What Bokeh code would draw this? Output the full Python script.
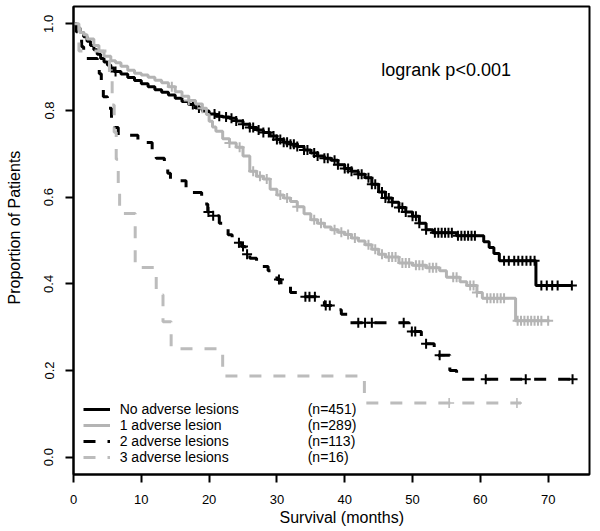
import numpy as np
from bokeh.plotting import figure
from bokeh.models import Label, Legend, LegendItem, FixedTicker, Range1d, CustomJSTickFormatter, Title
from bokeh.embed import file_html
from bokeh.resources import INLINE

# ---------------- data ----------------
x_ticks = [0, 10, 20, 30, 40, 50, 60, 70]
y_ticks = [0.0, 0.2, 0.4, 0.6, 0.8, 1.0]

group_names = ["No adverse lesions", "1 adverse lesion", "2 adverse lesions", "3 adverse lesions"]
group_counts = ["(n=451)", "(n=289)", "(n=113)", "(n=16)"]

black_t = [0, 0.5, 1, 1.5, 2, 2.5, 3, 3.5, 4, 4.5, 5, 5.5, 6, 7, 8, 9, 10, 11, 12, 13, 14, 15, 16, 17, 18,
           19, 20, 21, 22, 23, 24, 25, 26, 27, 28, 29, 30, 31, 32, 33, 34, 35, 36, 37, 38, 39, 40, 41, 42,
           43, 44, 45, 46, 47, 48, 49, 50, 51, 52, 53, 56.5, 60.5, 61.3, 62.0, 62.8, 68.2, 73.5]
black_s = [1.0, 0.99, 0.98, 0.97, 0.96, 0.95, 0.94, 0.93, 0.92, 0.912, 0.905, 0.898, 0.89, 0.884, 0.876,
           0.869, 0.862, 0.855, 0.848, 0.842, 0.836, 0.828, 0.821, 0.814, 0.806, 0.799, 0.792, 0.787, 0.785,
           0.782, 0.776, 0.768, 0.761, 0.755, 0.749, 0.741, 0.733, 0.727, 0.722, 0.717, 0.709, 0.702, 0.695,
           0.69, 0.685, 0.675, 0.666, 0.66, 0.653, 0.645, 0.63, 0.612, 0.598, 0.588, 0.576, 0.566, 0.556,
           0.54, 0.525, 0.518, 0.511, 0.497, 0.484, 0.47, 0.453, 0.396, 0.396]
black_cens = [6.2, 17.6, 18.5, 20.8, 21.5, 22.5, 23.3, 24.0, 25.0, 26.0, 26.5, 27.3, 28.0, 28.8, 29.5, 30.0,
              30.5, 31.0, 31.5, 32.0, 32.5, 33.0, 34.0, 34.5, 35.5, 36.0, 37.0, 37.5, 38.5, 39.0, 40.0, 40.5,
              41.0, 42.0, 42.5, 43.5, 44.0, 44.5, 45.5, 46.0, 46.5, 47.0, 48.0, 48.5, 49.0, 50.0, 50.5, 51.0,
              52.0, 53.3, 53.8, 54.3, 54.8, 55.3, 55.8, 56.7, 57.2, 57.7, 58.2, 58.7, 59.2, 63.5, 64.2, 65.0,
              65.6, 66.2, 66.8, 67.4, 68.0, 69.0, 69.8, 70.6, 71.4, 73.5]

gray_t = [0, 0.5, 1, 1.5, 2, 3, 3.75, 4.5, 5.5, 6.2, 7, 8, 9, 10, 11, 12, 13, 14, 15, 16, 17, 18, 19, 19.6,
          20, 20.5, 21, 22, 23, 24, 25, 26, 27, 28, 29, 30, 31, 32, 33, 34, 35, 36, 37, 38, 39, 40, 41, 42,
          43, 44, 45, 46, 48, 50, 52, 54, 55, 57, 58, 59.5, 60.3, 65.2, 70.2]
gray_s = [1.0, 0.99, 0.98, 0.975, 0.965, 0.95, 0.937, 0.925, 0.915, 0.91, 0.902, 0.893, 0.886, 0.882, 0.877,
          0.87, 0.864, 0.855, 0.843, 0.833, 0.823, 0.815, 0.805, 0.791, 0.775, 0.762, 0.752, 0.735, 0.725,
          0.715, 0.695, 0.66, 0.648, 0.642, 0.618, 0.605, 0.598, 0.59, 0.578, 0.562, 0.548, 0.54, 0.531,
          0.525, 0.519, 0.514, 0.506, 0.499, 0.49, 0.48, 0.468, 0.462, 0.448, 0.443, 0.437, 0.43, 0.415,
          0.405, 0.396, 0.38, 0.367, 0.315, 0.315]
gray_cens = [14.5, 17.0, 19.0, 23.0, 24.5, 26.5, 27.5, 28.5, 30.5, 31.5, 33.0, 35.5, 36.5, 38.5, 39.5, 40.5,
             41.5, 43.5, 44.5, 45.5, 46.5, 47.0, 47.5, 48.5, 49.0, 49.5, 50.5, 51.0, 51.5, 52.5, 53.0, 53.5,
             56.0, 56.5, 58.5, 59.0, 59.5, 61.0, 61.5, 62.0, 62.5, 63.0, 63.5, 65.5, 66.0, 66.5, 67.0, 67.5,
             68.0, 68.5, 69.0, 70.0]

two_t = [0, 0.4, 0.8, 1.2, 1.5, 3.5, 3.8, 4.1, 4.4, 5.0, 5.6, 6.1, 6.6, 9.5, 11.6, 12.2, 13.4, 13.9, 14.3,
         16.6, 17.2, 18.9, 19.4, 19.8, 20.4, 21.5, 22.0, 22.8, 23.4, 24.3, 24.8, 25.3, 26.0, 27.0, 27.5,
         28.7, 29.4, 30.0, 30.6, 32.0, 34.0, 35.8, 37.0, 38.5, 39.5, 40.6, 49.5, 51.3, 53.2, 55.5, 56.5, 73.6]
two_s = [1.0, 0.982, 0.965, 0.947, 0.92, 0.903, 0.885, 0.858, 0.832, 0.805, 0.779, 0.761, 0.743, 0.726,
         0.708, 0.69, 0.673, 0.655, 0.638, 0.62, 0.611, 0.593, 0.584, 0.566, 0.557, 0.54, 0.531, 0.513,
         0.504, 0.495, 0.486, 0.468, 0.459, 0.45, 0.44, 0.43, 0.42, 0.41, 0.398, 0.38, 0.37, 0.36, 0.35,
         0.34, 0.33, 0.31, 0.29, 0.262, 0.235, 0.2, 0.18, 0.18]
two_cens = [19.9, 20.6, 24.4, 25.0, 25.6, 30.3, 34.2, 34.8, 35.6, 37.2, 37.8, 42.0, 43.0, 44.0, 48.7, 49.9,
            50.4, 52.0, 54.0, 60.8, 66.7, 73.6]

three_t = [0, 0.8, 5.3, 5.7, 6.0, 6.3, 6.6, 6.8, 9.1, 12.2, 13.2, 14.4, 22.0, 42.9, 66.0]
three_s = [1.0, 0.9375, 0.875, 0.8125, 0.75, 0.6875, 0.625, 0.5625, 0.4375, 0.375, 0.3125, 0.25,
           0.1875, 0.125, 0.125]
three_cens = [55.4, 65.4]

FONT = "Liberation Sans"
BLACK = "#000000"
GRAY = "#b4b4b4"
GRAY_D = "#bcbcbc"


def step_value(ts, ss, t):
    idx = np.searchsorted(np.asarray(ts), t, side="right") - 1
    return float(np.asarray(ss)[idx])


p = figure(width=600, height=531, output_backend="svg", toolbar_location=None,
           x_range=Range1d(0, 76.1), y_range=Range1d(-0.04, 1.04),
           min_border_left=73, min_border_right=11, min_border_top=6, min_border_bottom=57)
p.background_fill_color = "white"
p.border_fill_color = "white"
p.xgrid.visible = False
p.ygrid.visible = False
p.outline_line_color = "black"
p.outline_line_width = 2
p.outline_line_alpha = 1

curves = [
    (black_t, black_s, black_cens, BLACK, "solid", 2.0),
    (gray_t, gray_s, gray_cens, GRAY, "solid", 2.0),
    (two_t, two_s, two_cens, BLACK, "12 12", 2.0),
    (three_t, three_s, three_cens, GRAY_D, "12 12", 1.6),
]

renderers = []
for ts, ss, cens, col, dash, mw in curves:
    r = p.step(ts, ss, mode="after", line_color=col, line_width=3, line_dash=dash)
    renderers.append(r)
    cy = [step_value(ts, ss, c) for c in cens]
    p.scatter(cens, cy, marker="cross", size=10, line_color=col, line_width=mw)

# axes
for ax in (p.xaxis[0], p.yaxis[0]):
    ax.axis_line_width = 2
    ax.major_tick_line_width = 2
    ax.major_tick_out = 8
    ax.major_tick_in = 0
    ax.minor_tick_out = 0
    ax.minor_tick_in = 0
    ax.major_label_text_font = FONT
    ax.major_label_text_font_size = "13px"
    ax.major_label_text_color = "black"
    ax.axis_line_color = "black"
    ax.major_tick_line_color = "black"

p.xaxis.ticker = FixedTicker(ticks=x_ticks)
p.yaxis.ticker = FixedTicker(ticks=y_ticks)
p.yaxis.formatter = CustomJSTickFormatter(code="return tick.toFixed(1);")
p.xaxis.major_label_standoff = 12
p.yaxis.major_label_standoff = 12
p.yaxis.major_label_orientation = "vertical"
# blank spacer label so the y title sits further out
p.yaxis.axis_label = " "
p.yaxis.axis_label_text_font_size = "1px"
p.yaxis.axis_label_standoff = 13

# axis titles
p.add_layout(Title(text="Survival (months)", align="left", offset=206, vertical_align="top", standoff=4,
                   text_font=FONT, text_font_size="16px", text_font_style="normal", text_color="black"),
             "below")
p.add_layout(Title(text="Proportion of Patients", align="left", offset=170, vertical_align="top", standoff=0,
                   text_font=FONT, text_font_size="16px", text_font_style="normal", text_color="black"),
             "left")

# logrank annotation
p.add_layout(Label(x=45.4, y=0.893, text="logrank p<0.001", text_align="left", text_baseline="middle",
                   text_font=FONT, text_font_size="18px", text_color="black"))

# legend (names with line samples)
leg = Legend(items=[LegendItem(label=n, renderers=[r]) for n, r in zip(group_names, renderers)],
             location=(9.7, 8.7), glyph_width=27, glyph_height=16, label_height=16, label_standoff=10,
             spacing=0, padding=0, margin=0, background_fill_alpha=0, border_line_alpha=0,
             label_text_font=FONT, label_text_font_size="14px", label_text_color="black")
p.add_layout(leg)

# legend counts column
dummies = [p.line([], [], line_alpha=0) for _ in group_counts]
leg2 = Legend(items=[LegendItem(label=c, renderers=[d]) for c, d in zip(group_counts, dummies)],
              location=(233.7, 8.7), glyph_width=1, glyph_height=16, label_height=16, label_standoff=0,
              spacing=0, padding=0, margin=0, background_fill_alpha=0, border_line_alpha=0,
              label_text_font=FONT, label_text_font_size="14px", label_text_color="black")
p.add_layout(leg2)

open("out.html", "w").write(file_html(p, INLINE))
